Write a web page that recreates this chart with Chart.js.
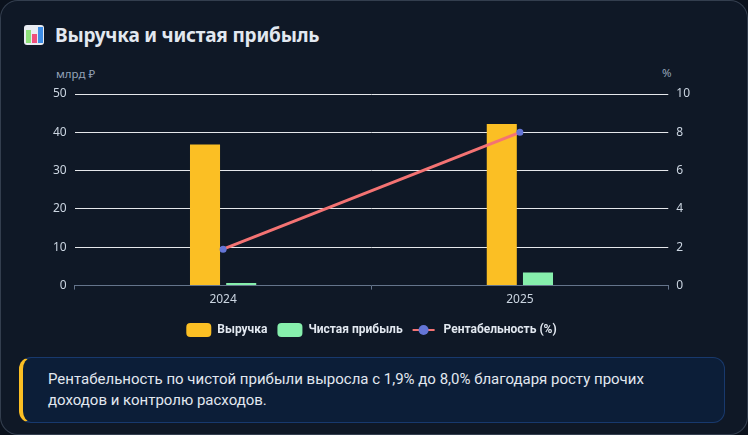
<!DOCTYPE html>
<html lang="ru">
<head>
<meta charset="utf-8">
<script src="https://cdn.jsdelivr.net/npm/chart.js@4.4.1/dist/chart.umd.min.js"></script>
<style>
  html, body { margin: 0; padding: 0; background: #0a111c; width: 748px; height: 435px; overflow: hidden; }
  body { font-family: 'Noto Sans', 'Open Sans', sans-serif; }
  .card {
    position: absolute; left: 0; top: 0; width: 746px; height: 433px;
    background: #0f1826; border: 1px solid rgba(148, 163, 184, 0.28); border-radius: 18px;
  }
  .title {
    position: absolute; left: 24px; top: 22px; display: flex; align-items: center;
    color: #e2e8f0; font-size: 19px; font-weight: 700; letter-spacing: -0.2px;
  }
  .icon {
    width: 20px; height: 20px; margin-right: 11px; border-radius: 3px; background: #e9ecf2;
    position: relative; overflow: hidden;
  }
  .icon span { position: absolute; bottom: 2px; width: 5px; }
  .unit { position: absolute; color: #94a3b8; font-size: 11.5px; }
  .chart-box { position: absolute; left: 22px; top: 62px; width: 700px; height: 285px; }
  .insight {
    position: absolute; left: 19px; top: 357px; width: 626px;
    padding: 11px 50px 11px 25px; box-sizing: content-box;
    background: #0c1e38; border: 1px solid rgba(59, 130, 246, 0.28); border-left: 4px solid #fbbf24;
    border-radius: 12px; color: #e2e8f0; font-family: Roboto, sans-serif; font-size: 15px; line-height: 21px;
  }
</style>
</head>
<body>
<div class="card"></div>
<div class="title">
  <div class="icon">
    <span style="left:2px;height:13px;background:#8ee07a;"></span>
    <span style="left:8px;height:9px;background:#ef4f7c;"></span>
    <span style="left:14px;height:16px;background:#3d8de6;"></span>
  </div>
  <span>Выручка и чистая прибыль</span>
</div>
<div class="unit" style="left:56px;top:66px;">млрд ₽</div>
<div class="unit" style="left:662px;top:65px;">%</div>
<div class="chart-box"><canvas id="revChart"></canvas></div>
<div class="insight">Рентабельность по чистой прибыли выросла с 1,9% до 8,0% благодаря росту прочих доходов и контролю расходов.</div>

<script>
const years = ["2024", "2025"];
const revenue = [36.8, 42.2];      // млрд ₽
const netProfit = [0.7, 3.4];      // млрд ₽
const margin = [1.9, 8.0];         // %
const leftTicks = [0, 10, 20, 30, 40, 50];
const rightTicks = [0, 2, 4, 6, 8, 10];

const textColor = "#cbd5e1";
Chart.defaults.font.family = "'Noto Sans', 'Open Sans', sans-serif";
Chart.defaults.font.size = 12;
Chart.defaults.color = textColor;

// draws the line + dot swatch for the line series in the legend
const lineSwatch = {
    id: "lineSwatch",
    afterDraw(chart) {
        const legend = chart.legend;
        if (!legend || !legend.legendHitBoxes) return;
        legend.legendItems.forEach((item, i) => {
            if (item.datasetIndex !== 2) return;
            const box = legend.legendHitBoxes[i];
            const ds = chart.data.datasets[2];
            const cy = box.top + box.height / 2;
            const ctx = chart.ctx;
            ctx.save();
            ctx.strokeStyle = ds.borderColor;
            ctx.lineWidth = 2;
            ctx.beginPath();
            ctx.moveTo(box.left, cy);
            ctx.lineTo(box.left + 22, cy);
            ctx.stroke();
            ctx.fillStyle = ds.pointBackgroundColor;
            ctx.beginPath();
            ctx.arc(box.left + 11, cy, 5, 0, Math.PI * 2);
            ctx.fill();
            ctx.restore();
        });
    }
};

new Chart(document.getElementById("revChart"), {
    data: {
        labels: years,
        datasets: [
            {
                type: "bar",
                label: "Выручка",
                data: revenue,
                backgroundColor: "#fbbf24",
                yAxisID: "y",
                order: 1,
                categoryPercentage: 0.244,
                barPercentage: 0.83
            },
            {
                type: "bar",
                label: "Чистая прибыль",
                data: netProfit,
                backgroundColor: "#86efac",
                yAxisID: "y",
                order: 1,
                categoryPercentage: 0.244,
                barPercentage: 0.83
            },
            {
                type: "line",
                label: "Рентабельность (%)",
                data: margin,
                borderColor: "#f47373",
                borderWidth: 3,
                pointBackgroundColor: "#6475d6",
                pointBorderColor: "#6475d6",
                pointRadius: 2,
                yAxisID: "y1",
                order: 0,
                tension: 0
            }
        ]
    },
    options: {
        responsive: true,
        maintainAspectRatio: false,
        animation: false,
        layout: { padding: { top: 32, left: 23, right: 24, bottom: 0 } },
        plugins: {
            tooltip: { enabled: false },
            legend: {
                position: "bottom",
                labels: {
                    color: "#e2e8f0",
                    font: { family: "Roboto, sans-serif", size: 12, weight: "bold" },
                    boxWidth: 25,
                    boxHeight: 14,
                    padding: 10,
                    generateLabels(chart) {
                        return chart.data.datasets.map((ds, i) => ({
                            text: ds.label,
                            datasetIndex: i,
                            fillStyle: ds.type === "bar" ? ds.backgroundColor : "rgba(0,0,0,0)",
                            strokeStyle: "rgba(0,0,0,0)",
                            lineWidth: 0,
                            borderRadius: ds.type === "bar" ? 4 : 0,
                            fontColor: "#e2e8f0",
                            hidden: !chart.isDatasetVisible(i)
                        }));
                    }
                }
            }
        },
        scales: {
            x: {
                grid: { drawOnChartArea: false, color: "#64748b", tickLength: 4 },
                border: { color: "#64748b" },
                ticks: { color: textColor },
                afterFit: axis => { axis.height += 3; }
            },
            y: {
                position: "left",
                min: 0,
                max: 50,
                afterBuildTicks: axis => { axis.ticks = leftTicks.map(v => ({ value: v })); },
                grid: {
                    drawTicks: false,
                    color: c => (c.tick && c.tick.value === 0) ? "rgba(0,0,0,0)" : "#e5e7eb"
                },
                border: { display: false },
                ticks: { color: textColor, padding: 8 }
            },
            y1: {
                position: "right",
                min: 0,
                max: 10,
                afterBuildTicks: axis => { axis.ticks = rightTicks.map(v => ({ value: v })); },
                grid: { drawOnChartArea: false, drawTicks: false },
                border: { display: false },
                ticks: { color: textColor, padding: 8 }
            }
        }
    },
    plugins: [lineSwatch]
});
</script>
</body>
</html>
